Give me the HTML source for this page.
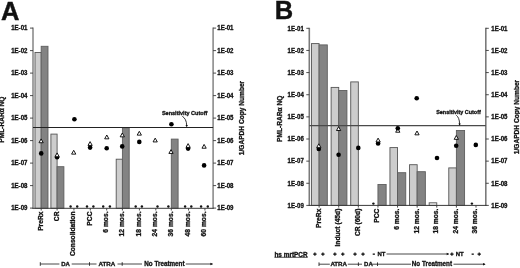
<!DOCTYPE html>
<html><head><meta charset="utf-8"><style>
html,body{margin:0;padding:0;background:#fff;width:520px;height:268px;overflow:hidden}
svg{display:block;will-change:transform}
text{font-family:"Liberation Sans", sans-serif;fill:#111;stroke:#111;stroke-width:0.3px;paint-order:stroke}
.big{stroke-width:0.4px}
</style></head><body>
<svg width="520" height="268" viewBox="0 0 520 268">
<rect width="520" height="268" fill="#fff"/>
<rect x="34.99" y="52.5" width="6.2" height="155.8" fill="#cdcdcd" stroke="#555555" stroke-width="0.9"/>
<rect x="41.19" y="46.3" width="6.8" height="162" fill="#838383" stroke="#5e5e5e" stroke-width="0.9"/>
<rect x="50.9" y="134.1" width="6.2" height="74.2" fill="#cdcdcd" stroke="#555555" stroke-width="0.9"/>
<rect x="57.1" y="166.7" width="6.8" height="41.6" fill="#838383" stroke="#5e5e5e" stroke-width="0.9"/>
<rect x="116.2" y="159.2" width="6.2" height="49.1" fill="#cdcdcd" stroke="#555555" stroke-width="0.9"/>
<rect x="122.4" y="127.8" width="6.8" height="80.5" fill="#838383" stroke="#5e5e5e" stroke-width="0.9"/>
<rect x="171.3" y="139.1" width="6.8" height="69.2" fill="#838383" stroke="#5e5e5e" stroke-width="0.9"/>
<line x1="33" y1="27.6" x2="33" y2="208.8" stroke="#8c8c8c" stroke-width="1.6"/>
<line x1="213.1" y1="27.6" x2="213.1" y2="208.8" stroke="#8c8c8c" stroke-width="1.6"/>
<line x1="32.5" y1="208.3" x2="213.6" y2="208.3" stroke="#3a3a3a" stroke-width="1"/>
<line x1="33" y1="127.5" x2="213.1" y2="127.5" stroke="#222" stroke-width="1.1"/>
<line x1="30" y1="28.1" x2="33" y2="28.1" stroke="#3a3a3a" stroke-width="0.9"/>
<line x1="213.1" y1="28.1" x2="216.1" y2="28.1" stroke="#3a3a3a" stroke-width="0.9"/>
<text x="27.4" y="30.4" font-size="6.4" text-anchor="end" font-weight="bold" textLength="16.2" lengthAdjust="spacingAndGlyphs">1E-01</text>
<text x="217.3" y="30.4" font-size="6.4" text-anchor="start" font-weight="bold" textLength="16.2" lengthAdjust="spacingAndGlyphs">1E-01</text>
<line x1="30" y1="50.6" x2="33" y2="50.6" stroke="#3a3a3a" stroke-width="0.9"/>
<line x1="213.1" y1="50.6" x2="216.1" y2="50.6" stroke="#3a3a3a" stroke-width="0.9"/>
<text x="27.4" y="52.9" font-size="6.4" text-anchor="end" font-weight="bold" textLength="16.2" lengthAdjust="spacingAndGlyphs">1E-02</text>
<text x="217.3" y="52.9" font-size="6.4" text-anchor="start" font-weight="bold" textLength="16.2" lengthAdjust="spacingAndGlyphs">1E-02</text>
<line x1="30" y1="73.1" x2="33" y2="73.1" stroke="#3a3a3a" stroke-width="0.9"/>
<line x1="213.1" y1="73.1" x2="216.1" y2="73.1" stroke="#3a3a3a" stroke-width="0.9"/>
<text x="27.4" y="75.4" font-size="6.4" text-anchor="end" font-weight="bold" textLength="16.2" lengthAdjust="spacingAndGlyphs">1E-03</text>
<text x="217.3" y="75.4" font-size="6.4" text-anchor="start" font-weight="bold" textLength="16.2" lengthAdjust="spacingAndGlyphs">1E-03</text>
<line x1="30" y1="95.6" x2="33" y2="95.6" stroke="#3a3a3a" stroke-width="0.9"/>
<line x1="213.1" y1="95.6" x2="216.1" y2="95.6" stroke="#3a3a3a" stroke-width="0.9"/>
<text x="27.4" y="97.9" font-size="6.4" text-anchor="end" font-weight="bold" textLength="16.2" lengthAdjust="spacingAndGlyphs">1E-04</text>
<text x="217.3" y="97.9" font-size="6.4" text-anchor="start" font-weight="bold" textLength="16.2" lengthAdjust="spacingAndGlyphs">1E-04</text>
<line x1="30" y1="118.1" x2="33" y2="118.1" stroke="#3a3a3a" stroke-width="0.9"/>
<line x1="213.1" y1="118.1" x2="216.1" y2="118.1" stroke="#3a3a3a" stroke-width="0.9"/>
<text x="27.4" y="120.4" font-size="6.4" text-anchor="end" font-weight="bold" textLength="16.2" lengthAdjust="spacingAndGlyphs">1E-05</text>
<text x="217.3" y="120.4" font-size="6.4" text-anchor="start" font-weight="bold" textLength="16.2" lengthAdjust="spacingAndGlyphs">1E-05</text>
<line x1="30" y1="140.6" x2="33" y2="140.6" stroke="#3a3a3a" stroke-width="0.9"/>
<line x1="213.1" y1="140.6" x2="216.1" y2="140.6" stroke="#3a3a3a" stroke-width="0.9"/>
<text x="27.4" y="142.9" font-size="6.4" text-anchor="end" font-weight="bold" textLength="16.2" lengthAdjust="spacingAndGlyphs">1E-06</text>
<text x="217.3" y="142.9" font-size="6.4" text-anchor="start" font-weight="bold" textLength="16.2" lengthAdjust="spacingAndGlyphs">1E-06</text>
<line x1="30" y1="163.1" x2="33" y2="163.1" stroke="#3a3a3a" stroke-width="0.9"/>
<line x1="213.1" y1="163.1" x2="216.1" y2="163.1" stroke="#3a3a3a" stroke-width="0.9"/>
<text x="27.4" y="165.4" font-size="6.4" text-anchor="end" font-weight="bold" textLength="16.2" lengthAdjust="spacingAndGlyphs">1E-07</text>
<text x="217.3" y="165.4" font-size="6.4" text-anchor="start" font-weight="bold" textLength="16.2" lengthAdjust="spacingAndGlyphs">1E-07</text>
<line x1="30" y1="185.6" x2="33" y2="185.6" stroke="#3a3a3a" stroke-width="0.9"/>
<line x1="213.1" y1="185.6" x2="216.1" y2="185.6" stroke="#3a3a3a" stroke-width="0.9"/>
<text x="27.4" y="187.9" font-size="6.4" text-anchor="end" font-weight="bold" textLength="16.2" lengthAdjust="spacingAndGlyphs">1E-08</text>
<text x="217.3" y="187.9" font-size="6.4" text-anchor="start" font-weight="bold" textLength="16.2" lengthAdjust="spacingAndGlyphs">1E-08</text>
<line x1="30" y1="208.1" x2="33" y2="208.1" stroke="#3a3a3a" stroke-width="0.9"/>
<line x1="213.1" y1="208.1" x2="216.1" y2="208.1" stroke="#3a3a3a" stroke-width="0.9"/>
<text x="27.4" y="210.4" font-size="6.4" text-anchor="end" font-weight="bold" textLength="16.2" lengthAdjust="spacingAndGlyphs">1E-09</text>
<text x="217.3" y="210.4" font-size="6.4" text-anchor="start" font-weight="bold" textLength="16.2" lengthAdjust="spacingAndGlyphs">1E-09</text>
<line x1="41.19" y1="208.3" x2="41.19" y2="210.5" stroke="#3a3a3a" stroke-width="0.9"/>
<line x1="57.1" y1="208.3" x2="57.1" y2="210.5" stroke="#3a3a3a" stroke-width="0.9"/>
<line x1="73.93" y1="208.3" x2="73.93" y2="210.5" stroke="#3a3a3a" stroke-width="0.9"/>
<line x1="90.3" y1="208.3" x2="90.3" y2="210.5" stroke="#3a3a3a" stroke-width="0.9"/>
<line x1="106.68" y1="208.3" x2="106.68" y2="210.5" stroke="#3a3a3a" stroke-width="0.9"/>
<line x1="122.4" y1="208.3" x2="122.4" y2="210.5" stroke="#3a3a3a" stroke-width="0.9"/>
<line x1="139.42" y1="208.3" x2="139.42" y2="210.5" stroke="#3a3a3a" stroke-width="0.9"/>
<line x1="155.8" y1="208.3" x2="155.8" y2="210.5" stroke="#3a3a3a" stroke-width="0.9"/>
<line x1="171.3" y1="208.3" x2="171.3" y2="210.5" stroke="#3a3a3a" stroke-width="0.9"/>
<line x1="188.54" y1="208.3" x2="188.54" y2="210.5" stroke="#3a3a3a" stroke-width="0.9"/>
<line x1="204.91" y1="208.3" x2="204.91" y2="210.5" stroke="#3a3a3a" stroke-width="0.9"/>
<text x="42.59" y="211.5" font-size="6.7" text-anchor="end" font-weight="bold" transform="rotate(-90 42.59 211.5)">PreRx</text>
<text x="58.5" y="211.5" font-size="6.7" text-anchor="end" font-weight="bold" transform="rotate(-90 58.5 211.5)">CR</text>
<text x="75.33" y="211.5" font-size="6.7" text-anchor="end" font-weight="bold" transform="rotate(-90 75.33 211.5)">Consolidation</text>
<text x="91.7" y="211.5" font-size="6.7" text-anchor="end" font-weight="bold" transform="rotate(-90 91.7 211.5)">PCC</text>
<text x="108.08" y="211.5" font-size="6.7" text-anchor="end" font-weight="bold" transform="rotate(-90 108.08 211.5)">6 mos.</text>
<text x="123.8" y="211.5" font-size="6.7" text-anchor="end" font-weight="bold" transform="rotate(-90 123.8 211.5)">12 mos.</text>
<text x="140.82" y="211.5" font-size="6.7" text-anchor="end" font-weight="bold" transform="rotate(-90 140.82 211.5)">18 mos.</text>
<text x="157.2" y="211.5" font-size="6.7" text-anchor="end" font-weight="bold" transform="rotate(-90 157.2 211.5)">24 mos.</text>
<text x="172.7" y="211.5" font-size="6.7" text-anchor="end" font-weight="bold" transform="rotate(-90 172.7 211.5)">36 mos.</text>
<text x="189.94" y="211.5" font-size="6.7" text-anchor="end" font-weight="bold" transform="rotate(-90 189.94 211.5)">48 mos.</text>
<text x="206.31" y="211.5" font-size="6.7" text-anchor="end" font-weight="bold" transform="rotate(-90 206.31 211.5)">60 mos.</text>
<circle cx="70.6" cy="206.5" r="1.2" fill="#111"/>
<circle cx="77.2" cy="206.5" r="1.2" fill="#111"/>
<circle cx="87" cy="206.5" r="1.2" fill="#111"/>
<circle cx="93.4" cy="206.5" r="1.2" fill="#111"/>
<circle cx="103.2" cy="206.5" r="1.2" fill="#111"/>
<circle cx="109.9" cy="206.5" r="1.2" fill="#111"/>
<circle cx="135.7" cy="206.5" r="1.2" fill="#111"/>
<circle cx="141.9" cy="206.5" r="1.2" fill="#111"/>
<circle cx="157.5" cy="206.5" r="1.2" fill="#111"/>
<circle cx="168.4" cy="206.5" r="1.2" fill="#111"/>
<circle cx="185.1" cy="206.5" r="1.2" fill="#111"/>
<circle cx="191.3" cy="206.5" r="1.2" fill="#111"/>
<circle cx="201.1" cy="206.5" r="1.2" fill="#111"/>
<circle cx="207.8" cy="206.5" r="1.2" fill="#111"/>
<circle cx="41.2" cy="153.4" r="2.3" fill="#000"/>
<circle cx="57.1" cy="157.3" r="2.3" fill="#000"/>
<circle cx="74.4" cy="119.2" r="2.3" fill="#000"/>
<circle cx="90.1" cy="147.6" r="2.3" fill="#000"/>
<circle cx="106.7" cy="148.3" r="2.3" fill="#000"/>
<circle cx="122.2" cy="146.4" r="2.3" fill="#000"/>
<circle cx="139.3" cy="141.9" r="2.3" fill="#000"/>
<circle cx="171.4" cy="124.2" r="2.3" fill="#000"/>
<circle cx="188.1" cy="148.6" r="2.3" fill="#000"/>
<circle cx="204.1" cy="165.4" r="2.3" fill="#000"/>
<polygon points="41.1,138.91 38.98,142.73 43.23,142.73" fill="#fff" stroke="#000" stroke-width="0.9"/>
<polygon points="73.7,150.31 71.58,154.13 75.83,154.13" fill="#fff" stroke="#000" stroke-width="0.9"/>
<polygon points="106.8,135.01 104.67,138.83 108.92,138.83" fill="#fff" stroke="#000" stroke-width="0.9"/>
<polygon points="122.3,133.01 120.17,136.83 124.42,136.83" fill="#fff" stroke="#000" stroke-width="0.9"/>
<polygon points="139.3,131.31 137.18,135.13 141.43,135.13" fill="#fff" stroke="#000" stroke-width="0.9"/>
<polygon points="155.2,138.11 153.07,141.93 157.32,141.93" fill="#fff" stroke="#000" stroke-width="0.9"/>
<polygon points="171,149.61 168.88,153.43 173.12,153.43" fill="#fff" stroke="#000" stroke-width="0.9"/>
<polygon points="204.1,144.41 201.97,148.23 206.22,148.23" fill="#fff" stroke="#000" stroke-width="0.9"/>
<polygon points="57.1,152.91 54.98,156.73 59.23,156.73" fill="#fff" stroke="#000" stroke-width="0.9"/>
<polygon points="90.1,141.61 87.97,145.43 92.22,145.43" fill="#fff" stroke="#000" stroke-width="0.9"/>
<polygon points="188.1,143.61 185.97,147.43 190.22,147.43" fill="#fff" stroke="#000" stroke-width="0.9"/>
<text x="161.9" y="115.2" font-size="5.35" text-anchor="start" font-weight="bold" textLength="45.5" lengthAdjust="spacingAndGlyphs">Sensitivity Cutoff</text>
<path d="M182.3 116.3 C184.72 117.73 186.7 120.7 186.7 125.8" fill="none" stroke="#111" stroke-width="0.85"/>
<polygon points="185.5,125.1 187.9,125.1 186.7,127.3" fill="#111"/>
<text x="4.2" y="119.6" font-size="6.6" text-anchor="middle" font-weight="bold" transform="rotate(-90 4.2 119.6)">PML-RAR&#945; NQ</text>
<text x="244.2" y="118" font-size="6.6" text-anchor="middle" font-weight="bold" transform="rotate(-90 244.2 118)">1/GAPDH Copy Number</text>
<text x="0.9" y="19.9" font-size="25.5" text-anchor="start" font-weight="bold" class="big">A</text>
<rect x="311.51" y="43.6" width="7.6" height="161.8" fill="#cdcdcd" stroke="#555555" stroke-width="0.9"/>
<rect x="319.11" y="44.9" width="8.2" height="160.5" fill="#838383" stroke="#5e5e5e" stroke-width="0.9"/>
<rect x="331.12" y="87.4" width="7.6" height="118" fill="#cdcdcd" stroke="#555555" stroke-width="0.9"/>
<rect x="338.72" y="90.5" width="8.2" height="114.9" fill="#838383" stroke="#5e5e5e" stroke-width="0.9"/>
<rect x="350.73" y="81.9" width="7.6" height="123.5" fill="#cdcdcd" stroke="#555555" stroke-width="0.9"/>
<rect x="377.94" y="184.5" width="8.2" height="20.9" fill="#838383" stroke="#5e5e5e" stroke-width="0.9"/>
<rect x="389.95" y="147.6" width="7.6" height="57.8" fill="#cdcdcd" stroke="#555555" stroke-width="0.9"/>
<rect x="397.55" y="172.7" width="8.2" height="32.7" fill="#838383" stroke="#5e5e5e" stroke-width="0.9"/>
<rect x="409.56" y="164.7" width="7.6" height="40.7" fill="#cdcdcd" stroke="#555555" stroke-width="0.9"/>
<rect x="417.16" y="171.7" width="8.2" height="33.7" fill="#838383" stroke="#5e5e5e" stroke-width="0.9"/>
<rect x="429.17" y="202.8" width="7.6" height="2.6" fill="#ececec" stroke="#555555" stroke-width="0.9"/>
<rect x="448.78" y="167.9" width="7.6" height="37.5" fill="#cdcdcd" stroke="#555555" stroke-width="0.9"/>
<rect x="456.38" y="130.5" width="8.2" height="74.9" fill="#838383" stroke="#5e5e5e" stroke-width="0.9"/>
<line x1="309.3" y1="27.8" x2="309.3" y2="205.9" stroke="#7a7a7a" stroke-width="1.6"/>
<line x1="485.8" y1="27.8" x2="485.8" y2="205.9" stroke="#7a7a7a" stroke-width="1.6"/>
<line x1="308.8" y1="205.4" x2="486.3" y2="205.4" stroke="#3a3a3a" stroke-width="1"/>
<line x1="309.3" y1="125.6" x2="485.8" y2="125.6" stroke="#4a4a4a" stroke-width="1.4"/>
<line x1="306.3" y1="28.3" x2="309.3" y2="28.3" stroke="#3a3a3a" stroke-width="0.9"/>
<line x1="485.8" y1="28.3" x2="488.8" y2="28.3" stroke="#3a3a3a" stroke-width="0.9"/>
<text x="303.8" y="30.6" font-size="6.4" text-anchor="end" font-weight="bold" textLength="16.2" lengthAdjust="spacingAndGlyphs">1E-01</text>
<text x="491.3" y="30.6" font-size="6.4" text-anchor="start" font-weight="bold" textLength="16.2" lengthAdjust="spacingAndGlyphs">1E-01</text>
<line x1="306.3" y1="50.44" x2="309.3" y2="50.44" stroke="#3a3a3a" stroke-width="0.9"/>
<line x1="485.8" y1="50.44" x2="488.8" y2="50.44" stroke="#3a3a3a" stroke-width="0.9"/>
<text x="303.8" y="52.74" font-size="6.4" text-anchor="end" font-weight="bold" textLength="16.2" lengthAdjust="spacingAndGlyphs">1E-02</text>
<text x="491.3" y="52.74" font-size="6.4" text-anchor="start" font-weight="bold" textLength="16.2" lengthAdjust="spacingAndGlyphs">1E-02</text>
<line x1="306.3" y1="72.58" x2="309.3" y2="72.58" stroke="#3a3a3a" stroke-width="0.9"/>
<line x1="485.8" y1="72.58" x2="488.8" y2="72.58" stroke="#3a3a3a" stroke-width="0.9"/>
<text x="303.8" y="74.88" font-size="6.4" text-anchor="end" font-weight="bold" textLength="16.2" lengthAdjust="spacingAndGlyphs">1E-03</text>
<text x="491.3" y="74.88" font-size="6.4" text-anchor="start" font-weight="bold" textLength="16.2" lengthAdjust="spacingAndGlyphs">1E-03</text>
<line x1="306.3" y1="94.72" x2="309.3" y2="94.72" stroke="#3a3a3a" stroke-width="0.9"/>
<line x1="485.8" y1="94.72" x2="488.8" y2="94.72" stroke="#3a3a3a" stroke-width="0.9"/>
<text x="303.8" y="97.02" font-size="6.4" text-anchor="end" font-weight="bold" textLength="16.2" lengthAdjust="spacingAndGlyphs">1E-04</text>
<text x="491.3" y="97.02" font-size="6.4" text-anchor="start" font-weight="bold" textLength="16.2" lengthAdjust="spacingAndGlyphs">1E-04</text>
<line x1="306.3" y1="116.86" x2="309.3" y2="116.86" stroke="#3a3a3a" stroke-width="0.9"/>
<line x1="485.8" y1="116.86" x2="488.8" y2="116.86" stroke="#3a3a3a" stroke-width="0.9"/>
<text x="303.8" y="119.16" font-size="6.4" text-anchor="end" font-weight="bold" textLength="16.2" lengthAdjust="spacingAndGlyphs">1E-05</text>
<text x="491.3" y="119.16" font-size="6.4" text-anchor="start" font-weight="bold" textLength="16.2" lengthAdjust="spacingAndGlyphs">1E-05</text>
<line x1="306.3" y1="139" x2="309.3" y2="139" stroke="#3a3a3a" stroke-width="0.9"/>
<line x1="485.8" y1="139" x2="488.8" y2="139" stroke="#3a3a3a" stroke-width="0.9"/>
<text x="303.8" y="141.3" font-size="6.4" text-anchor="end" font-weight="bold" textLength="16.2" lengthAdjust="spacingAndGlyphs">1E-06</text>
<text x="491.3" y="141.3" font-size="6.4" text-anchor="start" font-weight="bold" textLength="16.2" lengthAdjust="spacingAndGlyphs">1E-06</text>
<line x1="306.3" y1="161.14" x2="309.3" y2="161.14" stroke="#3a3a3a" stroke-width="0.9"/>
<line x1="485.8" y1="161.14" x2="488.8" y2="161.14" stroke="#3a3a3a" stroke-width="0.9"/>
<text x="303.8" y="163.44" font-size="6.4" text-anchor="end" font-weight="bold" textLength="16.2" lengthAdjust="spacingAndGlyphs">1E-07</text>
<text x="491.3" y="163.44" font-size="6.4" text-anchor="start" font-weight="bold" textLength="16.2" lengthAdjust="spacingAndGlyphs">1E-07</text>
<line x1="306.3" y1="183.28" x2="309.3" y2="183.28" stroke="#3a3a3a" stroke-width="0.9"/>
<line x1="485.8" y1="183.28" x2="488.8" y2="183.28" stroke="#3a3a3a" stroke-width="0.9"/>
<text x="303.8" y="185.58" font-size="6.4" text-anchor="end" font-weight="bold" textLength="16.2" lengthAdjust="spacingAndGlyphs">1E-08</text>
<text x="491.3" y="185.58" font-size="6.4" text-anchor="start" font-weight="bold" textLength="16.2" lengthAdjust="spacingAndGlyphs">1E-08</text>
<line x1="306.3" y1="205.42" x2="309.3" y2="205.42" stroke="#3a3a3a" stroke-width="0.9"/>
<line x1="485.8" y1="205.42" x2="488.8" y2="205.42" stroke="#3a3a3a" stroke-width="0.9"/>
<text x="303.8" y="207.72" font-size="6.4" text-anchor="end" font-weight="bold" textLength="16.2" lengthAdjust="spacingAndGlyphs">1E-09</text>
<text x="491.3" y="207.72" font-size="6.4" text-anchor="start" font-weight="bold" textLength="16.2" lengthAdjust="spacingAndGlyphs">1E-09</text>
<line x1="319.11" y1="205.4" x2="319.11" y2="207.6" stroke="#3a3a3a" stroke-width="0.9"/>
<line x1="338.72" y1="205.4" x2="338.72" y2="207.6" stroke="#3a3a3a" stroke-width="0.9"/>
<line x1="358.33" y1="205.4" x2="358.33" y2="207.6" stroke="#3a3a3a" stroke-width="0.9"/>
<line x1="377.94" y1="205.4" x2="377.94" y2="207.6" stroke="#3a3a3a" stroke-width="0.9"/>
<line x1="397.55" y1="205.4" x2="397.55" y2="207.6" stroke="#3a3a3a" stroke-width="0.9"/>
<line x1="417.16" y1="205.4" x2="417.16" y2="207.6" stroke="#3a3a3a" stroke-width="0.9"/>
<line x1="436.77" y1="205.4" x2="436.77" y2="207.6" stroke="#3a3a3a" stroke-width="0.9"/>
<line x1="456.38" y1="205.4" x2="456.38" y2="207.6" stroke="#3a3a3a" stroke-width="0.9"/>
<line x1="475.99" y1="205.4" x2="475.99" y2="207.6" stroke="#3a3a3a" stroke-width="0.9"/>
<text x="320.51" y="208.6" font-size="6.7" text-anchor="end" font-weight="bold" transform="rotate(-90 320.51 208.6)">PreRx</text>
<text x="340.12" y="208.6" font-size="6.7" text-anchor="end" font-weight="bold" transform="rotate(-90 340.12 208.6)">Induct (45d)</text>
<text x="359.73" y="208.6" font-size="6.7" text-anchor="end" font-weight="bold" transform="rotate(-90 359.73 208.6)">CR (60d)</text>
<text x="379.34" y="208.6" font-size="6.7" text-anchor="end" font-weight="bold" transform="rotate(-90 379.34 208.6)">PCC</text>
<text x="398.95" y="208.6" font-size="6.7" text-anchor="end" font-weight="bold" transform="rotate(-90 398.95 208.6)">6 mos.</text>
<text x="418.56" y="208.6" font-size="6.7" text-anchor="end" font-weight="bold" transform="rotate(-90 418.56 208.6)">12 mos.</text>
<text x="438.17" y="208.6" font-size="6.7" text-anchor="end" font-weight="bold" transform="rotate(-90 438.17 208.6)">18 mos.</text>
<text x="457.78" y="208.6" font-size="6.7" text-anchor="end" font-weight="bold" transform="rotate(-90 457.78 208.6)">24 mos.</text>
<text x="477.39" y="208.6" font-size="6.7" text-anchor="end" font-weight="bold" transform="rotate(-90 477.39 208.6)">36 mos.</text>
<circle cx="373.4" cy="203.6" r="1.2" fill="#111"/>
<circle cx="471.9" cy="203.6" r="1.2" fill="#111"/>
<polygon points="397.8,128.41 395.68,132.23 399.93,132.23" fill="#fff" stroke="#000" stroke-width="0.9"/>
<circle cx="318.8" cy="148.9" r="2.3" fill="#000"/>
<circle cx="338.6" cy="154.7" r="2.3" fill="#000"/>
<circle cx="358.3" cy="147.9" r="2.3" fill="#000"/>
<circle cx="378.1" cy="143.4" r="2.3" fill="#000"/>
<circle cx="397.8" cy="128.3" r="2.3" fill="#000"/>
<circle cx="416.7" cy="98.2" r="2.3" fill="#000"/>
<circle cx="437" cy="158" r="2.3" fill="#000"/>
<circle cx="456.2" cy="145.8" r="2.3" fill="#000"/>
<circle cx="475.8" cy="144.9" r="2.3" fill="#000"/>
<polygon points="338.6,126.7 336.48,130.53 340.73,130.53" fill="#fff" stroke="#000" stroke-width="0.9"/>
<polygon points="417,131.01 414.88,134.83 419.12,134.83" fill="#fff" stroke="#000" stroke-width="0.9"/>
<polygon points="456.3,135.51 454.18,139.33 458.43,139.33" fill="#fff" stroke="#000" stroke-width="0.9"/>
<polygon points="318.8,143.81 316.68,147.63 320.93,147.63" fill="#fff" stroke="#000" stroke-width="0.9"/>
<polygon points="378.1,138.11 375.98,141.93 380.23,141.93" fill="#fff" stroke="#000" stroke-width="0.9"/>
<text x="436.2" y="114.2" font-size="5.35" text-anchor="start" font-weight="bold" textLength="44.6" lengthAdjust="spacingAndGlyphs">Sensitivity Cutoff</text>
<path d="M456.3 115.3 C458.12 116.65 459.6 119.46 459.6 124.2" fill="none" stroke="#111" stroke-width="0.85"/>
<polygon points="458.4,123.5 460.8,123.5 459.6,125.7" fill="#111"/>
<text x="281.6" y="118.8" font-size="6.6" text-anchor="middle" font-weight="bold" transform="rotate(-90 281.6 118.8)">PML-RAR&#945; NQ</text>
<text x="518.8" y="117" font-size="6.6" text-anchor="middle" font-weight="bold" transform="rotate(-90 518.8 117)">1/GAPDH Copy Number</text>
<text x="274.8" y="18.8" font-size="25.5" text-anchor="start" font-weight="bold" class="big">B</text>
<line x1="40.3" y1="262.2" x2="40.3" y2="265.8" stroke="#222" stroke-width="0.9"/>
<line x1="40.3" y1="264" x2="59.4" y2="264" stroke="#333" stroke-width="0.9"/>
<text x="61.2" y="266.2" font-size="6" text-anchor="start" font-weight="bold">DA</text>
<line x1="71.7" y1="264" x2="89.5" y2="264" stroke="#333" stroke-width="0.9"/>
<line x1="89.5" y1="262.2" x2="89.5" y2="265.8" stroke="#222" stroke-width="0.9"/>
<line x1="89.5" y1="264" x2="96.5" y2="264" stroke="#333" stroke-width="0.9"/>
<text x="98.5" y="266.2" font-size="6" text-anchor="start" font-weight="bold" textLength="16.8" lengthAdjust="spacingAndGlyphs">ATRA</text>
<line x1="117.5" y1="264" x2="142" y2="264" stroke="#333" stroke-width="0.9"/>
<line x1="122.2" y1="262.2" x2="122.2" y2="265.8" stroke="#222" stroke-width="0.9"/>
<text x="144.3" y="266.2" font-size="6.3" text-anchor="start" font-weight="bold">No Treatment</text>
<line x1="185.8" y1="264" x2="212.5" y2="264" stroke="#333" stroke-width="0.9"/>
<polygon points="210.4,262.7 210.4,265.3 213,264" fill="#111"/>
<text x="274.4" y="256.6" font-size="6.4" text-anchor="start" font-weight="bold" textLength="33.2" lengthAdjust="spacingAndGlyphs">hs mrtPCR</text>
<line x1="274.4" y1="257.3" x2="307.6" y2="257.3" stroke="#222" stroke-width="0.8"/>
<path d="M313.2 254.1H316.6M314.9 252.4V255.8" stroke="#111" stroke-width="1.25" fill="none"/>
<path d="M321.2 254.1H324.6M322.9 252.4V255.8" stroke="#111" stroke-width="1.25" fill="none"/>
<path d="M333.2 254.1H336.6M334.9 252.4V255.8" stroke="#111" stroke-width="1.25" fill="none"/>
<path d="M341.1 254.1H344.5M342.8 252.4V255.8" stroke="#111" stroke-width="1.25" fill="none"/>
<path d="M353.3 254.1H356.7M355 252.4V255.8" stroke="#111" stroke-width="1.25" fill="none"/>
<path d="M361.3 254.1H364.7M363 252.4V255.8" stroke="#111" stroke-width="1.25" fill="none"/>
<path d="M450.2 254.1H453.6M451.9 252.4V255.8" stroke="#111" stroke-width="1.25" fill="none"/>
<path d="M477.5 254.1H480.9M479.2 252.4V255.8" stroke="#111" stroke-width="1.25" fill="none"/>
<rect x="372.7" y="253.5" width="2.2" height="1.3" fill="#111"/>
<rect x="471.6" y="253.5" width="2.2" height="1.3" fill="#111"/>
<text x="377.4" y="256.2" font-size="6" text-anchor="start" font-weight="bold">NT</text>
<line x1="386.5" y1="254" x2="448.5" y2="254" stroke="#333" stroke-width="0.9"/>
<polygon points="446.7,252.7 446.7,255.3 449.3,254" fill="#111"/>
<text x="455.7" y="256.2" font-size="6" text-anchor="start" font-weight="bold">NT</text>
<line x1="319" y1="262.4" x2="319" y2="266" stroke="#222" stroke-width="0.9"/>
<line x1="319" y1="264.2" x2="329.8" y2="264.2" stroke="#333" stroke-width="0.9"/>
<text x="330.4" y="266.4" font-size="6" text-anchor="start" font-weight="bold" textLength="16.6" lengthAdjust="spacingAndGlyphs">ATRA</text>
<line x1="347.8" y1="264.2" x2="362" y2="264.2" stroke="#333" stroke-width="0.9"/>
<line x1="358.4" y1="262.4" x2="358.4" y2="266" stroke="#222" stroke-width="0.9"/>
<text x="364.1" y="266.4" font-size="6" text-anchor="start" font-weight="bold" textLength="8.6" lengthAdjust="spacingAndGlyphs">DA</text>
<line x1="372" y1="264.2" x2="411" y2="264.2" stroke="#333" stroke-width="0.9"/>
<line x1="377.5" y1="262.4" x2="377.5" y2="266" stroke="#222" stroke-width="0.9"/>
<text x="411.8" y="266.4" font-size="6.3" text-anchor="start" font-weight="bold">No Treatment</text>
<line x1="453.5" y1="264.2" x2="485" y2="264.2" stroke="#333" stroke-width="0.9"/>
<polygon points="483,262.9 483,265.5 485.6,264.2" fill="#111"/>
</svg>
</body></html>
